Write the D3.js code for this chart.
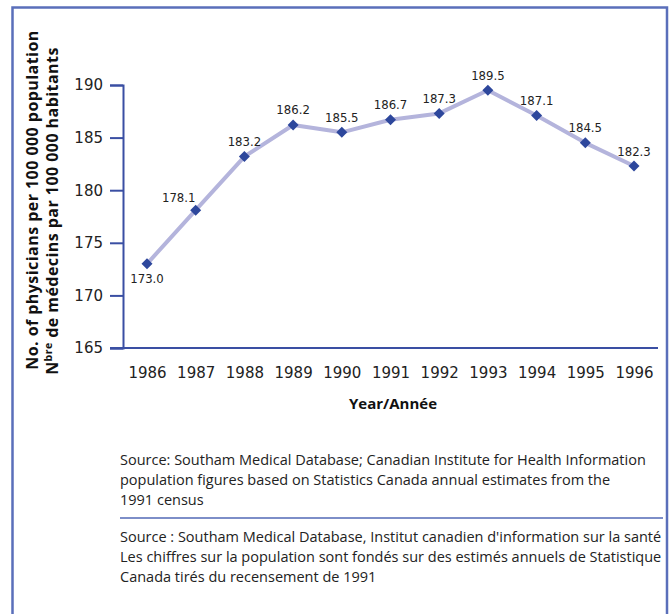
<!DOCTYPE html>
<html>
<head>
<meta charset="utf-8">
<script src="https://cdn.jsdelivr.net/npm/d3@7"></script>
<style>
  body { margin: 0; background: #fff; }
  svg { display: block; }
  .tick text { fill: #222; }
</style>
</head>
<body>
<div id="chart"></div>
<script>
// values
const years = [1986, 1987, 1988, 1989, 1990, 1991, 1992, 1993, 1994, 1995, 1996];
const rates = [173.0, 178.1, 183.2, 186.2, 185.5, 186.7, 187.3, 189.5, 187.1, 184.5, 182.3];
const yTicks = [165, 170, 175, 180, 185, 190];
const yTitle = ["No. of physicians per 100 000 population", "de médecins par 100 000 habitants"];
const xTitle = "Year/Année";
const sourceEn = [
  "Source: Southam Medical Database; Canadian Institute for Health Information",
  "population figures based on Statistics Canada annual estimates from the",
  "1991 census"
];
const sourceFr = [
  "Source : Southam Medical Database, Institut canadien d'information sur la santé",
  "Les chiffres sur la population sont fondés sur des estimés annuels de Statistique",
  "Canada tirés du recensement de 1991"
];

const W = 672, H = 614;
const frameColor = "#5a6fba", axisColor = "#3a4fa3";
const lineColor = "#b4b4dc", markColor = "#2d479c";

const svg = d3.select("#chart").append("svg")
  .attr("width", W).attr("height", H);

// frame, open at the bottom
svg.append("path")
  .attr("d", `M12.5,${H + 5}V7.5H667V${H + 5}`)
  .attr("fill", "none")
  .attr("stroke", frameColor)
  .attr("stroke-width", 2.5);

const x = d3.scalePoint().domain(years).range([147, 634]);
const y = d3.scaleLinear().domain([165, 190]).range([348, 85]);

// y axis
const yAxis = svg.append("g")
  .attr("transform", "translate(123,0)")
  .call(d3.axisLeft(y).tickValues(yTicks).tickSize(13).tickPadding(7));
yAxis.selectAll("path, line").attr("stroke", axisColor).attr("stroke-width", 2);
yAxis.selectAll("text")
  .attr("font-family", "DejaVu Sans, sans-serif")
  .attr("font-size", 15);

// x axis: labels only, baseline drawn separately
const xAxis = svg.append("g")
  .attr("transform", "translate(0,348)")
  .call(d3.axisBottom(x).tickSize(0).tickPadding(25));
xAxis.select(".domain").remove();
xAxis.selectAll("text")
  .attr("font-family", "DejaVu Sans, sans-serif")
  .attr("font-size", 15)
  .attr("dy", "0.32em");

svg.append("line")
  .attr("x1", 110).attr("x2", 658)
  .attr("y1", 348).attr("y2", 348)
  .attr("stroke", axisColor).attr("stroke-width", 2);

// axis titles
svg.append("text")
  .attr("x", 393).attr("y", 409)
  .attr("text-anchor", "middle")
  .attr("font-family", "Open Sans, sans-serif")
  .attr("font-weight", "bold")
  .attr("font-size", 15)
  .attr("fill", "#111")
  .text(xTitle);

const yt = svg.append("g")
  .attr("font-family", "Open Sans, sans-serif")
  .attr("font-weight", "bold")
  .attr("font-size", 16)
  .attr("letter-spacing", 0.45)
  .attr("fill", "#111")
  .attr("text-anchor", "middle");
yt.append("text")
  .attr("transform", "translate(38,200) rotate(-90)")
  .text(yTitle[0]);
const t2 = yt.append("text")
  .attr("transform", "translate(58,211) rotate(-90)");
t2.append("tspan").text("N");
t2.append("tspan").attr("font-size", 10.5).attr("dy", -6).text("bre");
t2.append("tspan").attr("dy", 6).text(" " + yTitle[1]);

// series
const pts = years.map((yr, i) => ({ year: yr, v: rates[i] }));

svg.append("path")
  .datum(pts)
  .attr("fill", "none")
  .attr("stroke", lineColor)
  .attr("stroke-width", 4)
  .attr("stroke-linejoin", "round")
  .attr("d", d3.line().x(d => x(d.year)).y(d => y(d.v)));

svg.append("g").selectAll("path")
  .data(pts)
  .join("path")
  .attr("transform", d => `translate(${x(d.year)},${y(d.v)})`)
  .attr("d", "M0,-5.5L5.5,0L0,5.5L-5.5,0Z")
  .attr("fill", markColor);

// value labels
svg.append("g")
  .attr("font-family", "DejaVu Sans Condensed, DejaVu Sans, sans-serif")
  .attr("font-stretch", "condensed")
  .attr("font-size", 13)
  .attr("fill", "#222")
  .attr("text-anchor", "middle")
  .selectAll("text")
  .data(pts)
  .join("text")
  .attr("x", (d, i) => x(d.year) + (i === 1 ? -17 : 0))
  .attr("y", (d, i) => y(d.v) + (i === 0 ? 19 : i === 1 ? -8 : -10.5))
  .text(d => d.v.toFixed(1));

// source notes
const notes = svg.append("g")
  .attr("font-family", "Open Sans, sans-serif")
  .attr("font-size", 14.5)
  .attr("fill", "#222");
notes.selectAll("text.en")
  .data(sourceEn)
  .join("text")
  .attr("class", "en")
  .attr("x", 120)
  .attr("y", (d, i) => 465 + i * 20)
  .text(d => d);

svg.append("line")
  .attr("x1", 120).attr("x2", 663)
  .attr("y1", 518).attr("y2", 518)
  .attr("stroke", "#7d8ec8").attr("stroke-width", 2);

notes.selectAll("text.fr")
  .data(sourceFr)
  .join("text")
  .attr("class", "fr")
  .attr("x", 120)
  .attr("y", (d, i) => 542 + i * 20)
  .text(d => d);
</script>
</body>
</html>
